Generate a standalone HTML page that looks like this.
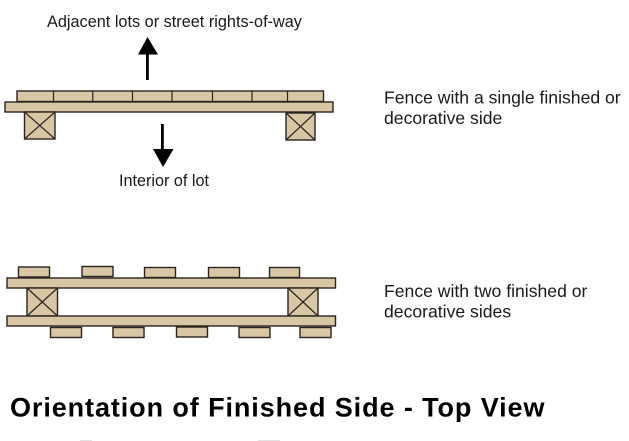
<!DOCTYPE html>
<html>
<head>
<meta charset="utf-8">
<style>
html,body{margin:0;padding:0;background:#fff;}
svg{display:block;}
text{font-family:"Liberation Sans",sans-serif;fill:#1a1a1a;}
.b{fill:#d9c6a5;stroke:#2a2420;stroke-width:1.4;}
.x{stroke:#2a2420;stroke-width:1.2;fill:none;}
</style>
</head>
<body>
<svg width="629" height="441" viewBox="0 0 629 441" xmlns="http://www.w3.org/2000/svg">
<rect width="629" height="441" fill="#fff"/>

<text x="47" y="27" font-size="16.27">Adjacent lots or street rights-of-way</text>
<polygon points="147.500,37 158,54.500 138,54.500" fill="#000"/>
<rect x="146" y="54" width="2.800" height="26" fill="#000"/>

<rect class="b" x="17" y="91" width="306.500" height="10.500"/>
<path class="x" d="M53.500 91V101.500M92.700 91V101.500M132.500 91V101.500M172 91V101.500M212.500 91V101.500M252 91V101.500M287.500 91V101.500"/>
<rect class="b" x="5" y="102" width="328" height="10"/>
<rect class="b" x="24.500" y="112" width="30.500" height="27"/>
<path class="x" d="M24.500 112L55 139M55 112L24.500 139"/>
<rect class="b" x="286" y="113" width="29" height="27"/>
<path class="x" d="M286 113L315 140M315 113L286 140"/>

<rect x="161" y="124" width="2.800" height="26" fill="#000"/>
<polygon points="153,149 173.500,149 163,167" fill="#000"/>
<text x="119" y="186" font-size="16.2">Interior of lot</text>

<text x="384" y="103.300" font-size="17.6">Fence with a single finished or</text>
<text x="384" y="124" font-size="17.6">decorative side</text>

<rect class="b" x="18.500" y="267" width="31" height="10"/>
<rect class="b" x="82" y="266.500" width="31" height="10"/>
<rect class="b" x="144.500" y="267.500" width="31" height="10"/>
<rect class="b" x="208.500" y="267.500" width="31" height="10"/>
<rect class="b" x="269.500" y="267.500" width="30" height="10"/>
<rect class="b" x="7" y="278" width="328.500" height="10"/>
<rect class="b" x="27" y="288" width="30.500" height="28"/>
<path class="x" d="M27 288L57.500 316M57.500 288L27 316"/>
<rect class="b" x="288" y="288" width="30" height="28"/>
<path class="x" d="M288 288L318 316M318 288L288 316"/>
<rect class="b" x="7" y="316" width="328.500" height="10"/>
<rect class="b" x="50.500" y="327.500" width="31" height="10"/>
<rect class="b" x="113" y="327.500" width="31" height="10"/>
<rect class="b" x="176.500" y="327" width="31" height="10"/>
<rect class="b" x="239" y="327.500" width="31" height="10"/>
<rect class="b" x="300" y="327.500" width="31" height="10"/>

<text x="384" y="297" font-size="17.6">Fence with two finished or</text>
<text x="384" y="317.700" font-size="17.6">decorative sides</text>

<text x="10" y="416.500" font-size="27" font-weight="bold" style="fill:#000" textLength="534.500" lengthAdjust="spacing">Orientation of Finished Side - Top View</text>

<g fill="#e2e2e2">
<rect x="80" y="440" width="12" height="1"/>
<rect x="258" y="440" width="22" height="1"/>
</g>
</svg>
</body>
</html>
